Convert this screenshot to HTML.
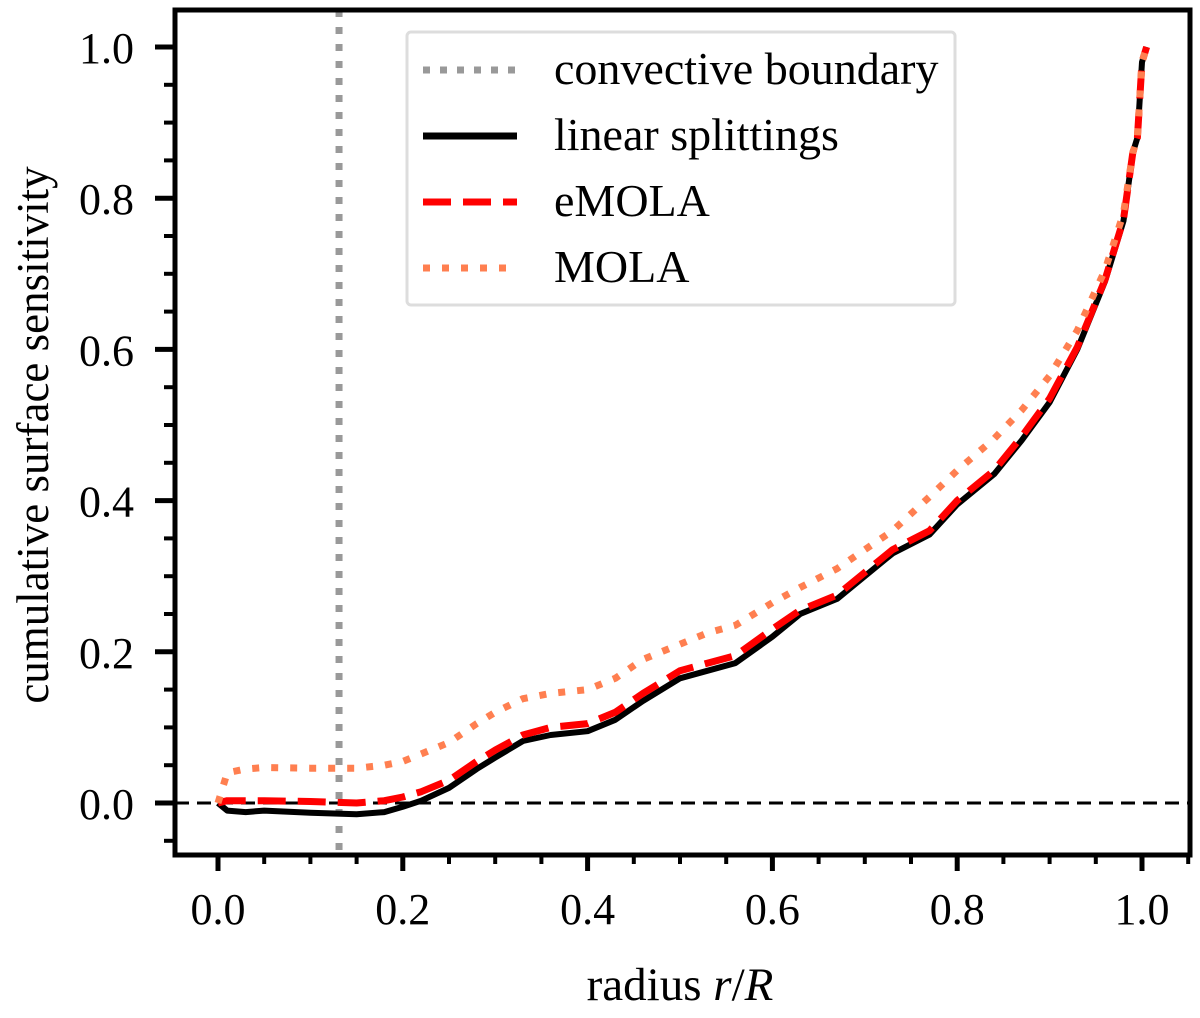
<!DOCTYPE html>
<html><head><meta charset="utf-8"><style>
html,body{margin:0;padding:0;background:#fff;}
svg text{font-family:"Liberation Serif",serif;fill:#000;}
</style></head><body>
<svg id="chart" width="1200" height="1013" xmlns="http://www.w3.org/2000/svg">
<g id="plot"></g>
</svg>
<script>
const rLin=[0,0.01,0.03,0.05,0.1,0.15,0.18,0.2,0.22,0.25,0.28,0.3,0.33,0.36,0.4,0.43,0.46,0.5,0.53,0.56,0.6,0.63,0.67,0.7,0.73,0.77,0.8,0.84,0.87,0.9,0.93,0.96,0.98,0.99,0.995,1.0,1.005];
const linear=[0,-0.01,-0.012,-0.01,-0.013,-0.015,-0.012,-0.005,0.003,0.02,0.045,0.06,0.082,0.09,0.095,0.11,0.135,0.165,0.175,0.185,0.22,0.25,0.27,0.3,0.33,0.355,0.395,0.435,0.48,0.53,0.6,0.69,0.77,0.86,0.88,0.98,1.0];
const emola=[0,0.003,0.003,0.003,0.002,0.0,0.003,0.008,0.015,0.03,0.055,0.07,0.09,0.1,0.105,0.12,0.145,0.175,0.185,0.195,0.23,0.255,0.275,0.305,0.335,0.36,0.4,0.44,0.485,0.535,0.603,0.692,0.772,0.86,0.88,0.98,1.0];
const mola=[0,0.04,0.045,0.047,0.046,0.046,0.05,0.055,0.065,0.08,0.105,0.12,0.138,0.145,0.15,0.165,0.19,0.21,0.225,0.235,0.265,0.285,0.31,0.335,0.36,0.405,0.44,0.482,0.52,0.565,0.625,0.705,0.78,0.86,0.88,0.98,1.0];
const convBoundary=0.131;
const xTicks=["0.0","0.2","0.4","0.6","0.8","1.0"];
const yTicks=["0.0","0.2","0.4","0.6","0.8","1.0"];

const NS="http://www.w3.org/2000/svg";
const g=document.getElementById('plot');
const L=175,R=1190,T=10,B=855;
const X=v=>218+v*924, Y=v=>803-v*756;
function mk(t,a,p){const e=document.createElementNS(NS,t);for(const k in a)e.setAttribute(k,a[k]);(p||g).appendChild(e);return e;}

let z=mk('line',{x1:L,x2:R,y1:Y(0),y2:Y(0),stroke:'#000','stroke-width':3,'stroke-dasharray':'14 8'});


let cb=mk('line',{x1:X(convBoundary),x2:X(convBoundary),y1:T,y2:B,stroke:'#999','stroke-width':7,'stroke-dasharray':'7 10'});



function path(ys,attrs,name){
  let d=rLin.map((r,i)=>(i?'L':'M')+X(r).toFixed(1)+','+Y(ys[i]).toFixed(1)).join('');
  const p=mk('path',Object.assign({d:d,fill:'none','stroke-linejoin':'round'},attrs));
  
  
}
path(linear,{stroke:'#000','stroke-width':6},'linear-splittings-line');
path(emola,{stroke:'#f00','stroke-width':7,'stroke-dasharray':'28 12'},'emola-line');
path(mola,{stroke:'#ff7f50','stroke-width':7,'stroke-dasharray':'7 12'},'mola-line');

let fr=mk('rect',{x:L,y:T,width:R-L,height:B-T,fill:'none',stroke:'#000','stroke-width':5});



for(let i=-1;i<=21;i++){const v=i*0.05;const x=X(v);if(x<L||x>R)continue;
  const maj=i%4===0&&i>=0;
  let t=mk('line',{x1:x,x2:x,y1:B,y2:B+(maj?16:9),stroke:'#000','stroke-width':maj?5:4});
  
  }
for(let i=-1;i<=21;i++){const v=i*0.05;const y=Y(v);if(y<T||y>B)continue;
  const maj=i%4===0&&i>=0;
  let t=mk('line',{x1:L,x2:L-(maj?20:11),y1:y,y2:y,stroke:'#000','stroke-width':maj?5:4});
  
  }
xTicks.forEach((s,i)=>{let t=mk('text',{x:X(i*0.2),y:924,'text-anchor':'middle','font-size':44});t.textContent=s;
  
  });
yTicks.forEach((s,i)=>{let t=mk('text',{x:134,y:Y(i*0.2)+16,'text-anchor':'end','font-size':44});t.textContent=s;
  
  });
let xt=mk('text',{x:680,y:1000,'text-anchor':'middle','font-size':47});
xt.innerHTML='radius <tspan font-style="italic">r</tspan>/<tspan font-style="italic">R</tspan>';


let yt=mk('text',{x:0,y:0,'text-anchor':'middle','font-size':45,transform:'translate(48,435) rotate(-90)'});
yt.textContent='cumulative surface sensitivity';



const lg=mk('g',{});


mk('rect',{x:407,y:32,width:548,height:273,rx:4,fill:'#fff',stroke:'#ddd','stroke-width':3},lg);
const items=[['convective boundary','#999','7 10',7],['linear splittings','#000','none',7],['eMOLA','#f00','28 12',7],['MOLA','#ff7f50','7 12',7]];
items.forEach((it,i)=>{const y=70+i*66;
  const e=mk('g',{},lg);
  
  
  mk('line',{x1:423,x2:517,y1:y,y2:y,stroke:it[1],'stroke-width':it[3],'stroke-dasharray':it[2]},e);
  const t=mk('text',{x:554,y:y+14,'font-size':46},e);t.textContent=it[0];});
</script>
</body></html>
